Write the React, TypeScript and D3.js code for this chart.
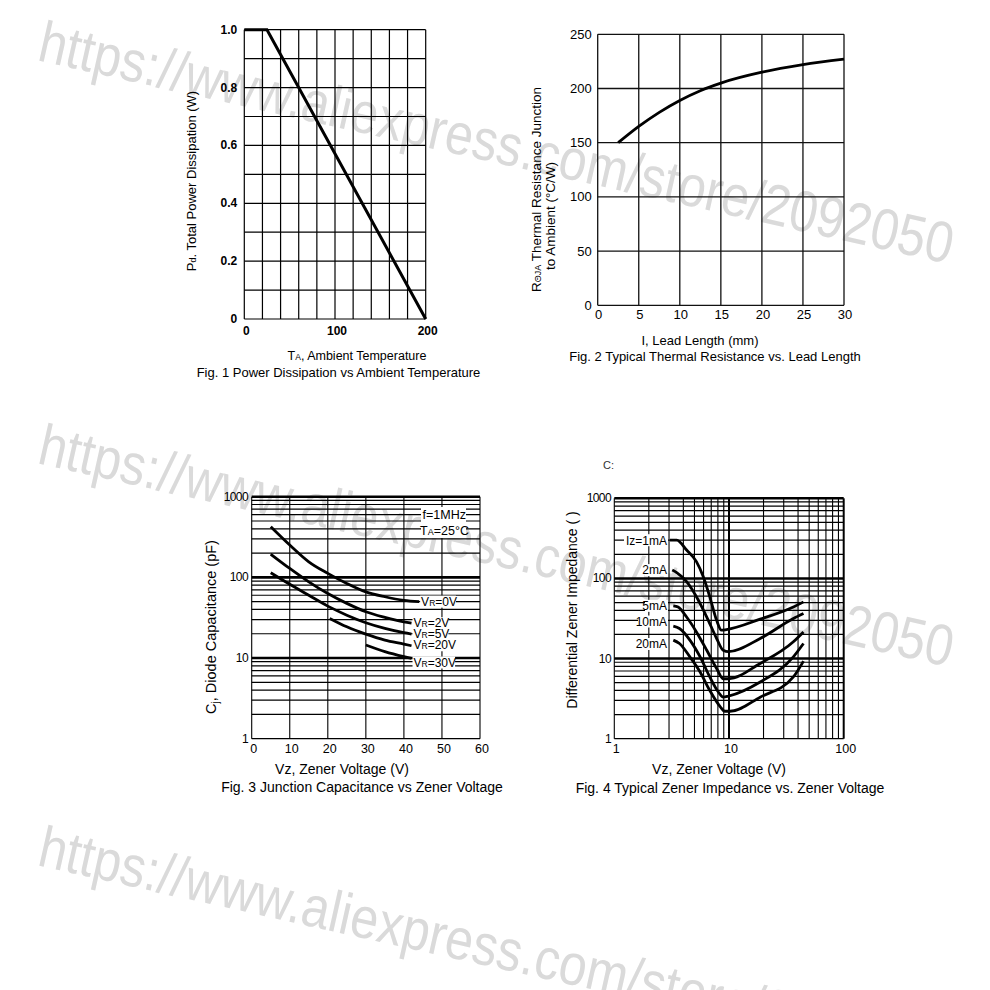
import * as d3 from "d3";

const FONT = "'Liberation Sans', Arial, Helvetica, sans-serif";

// Fig. 1 – power dissipation vs ambient temperature
const ambientTemp = [0, 25, 200];
const powerDissipation = [1.0, 1.0, 0];
const fig1XTicks = [0, 100, 200];
const fig1YTicks = [0, 0.2, 0.4, 0.6, 0.8, 1.0];

// Fig. 2 – thermal resistance vs lead length
const leadLength = [2.5, 5, 7.5, 10, 12.5, 15, 20, 25, 30];
const thermalRes = [150, 165, 178, 189, 198, 205, 215, 222, 227];
const fig2XTicks = [0, 5, 10, 15, 20, 25, 30];
const fig2YTicks = [0, 50, 100, 150, 200, 250];

// Fig. 3 – junction capacitance vs zener voltage
const capSeries = ["0V", "2V", "5V", "20V", "30V"];
const capVz = [
  [5, 10, 15, 20, 25, 30, 35, 40, 44],
  [5, 10, 15, 20, 25, 30, 35, 40, 42],
  [5, 10, 15, 20, 25, 30, 35, 40, 42],
  [20.5, 25, 30, 35, 40, 42],
  [30, 35, 40, 42],
];
const capValues = [
  [425, 252, 156, 112, 84, 66, 57.5, 52, 50],
  [194, 129, 88, 63, 47.6, 37.5, 31.9, 28, 27],
  [114, 82, 60, 44, 34, 27.4, 23.3, 20.6, 19.8],
  [31, 24.4, 19.8, 16.7, 14.9, 14.2],
  [14.5, 12, 10.4, 9.9],
];
const capLabelAt = [50, 27, 19.8, 14.4, 8.8];
const fig3XTicks = [0, 10, 20, 30, 40, 50, 60];
const fig3YTicks = [1, 10, 100, 1000];

// Fig. 4 – zener impedance vs zener voltage
const impSeries = ["Iz=1mA", "2mA", "5mA", "10mA", "20mA"];
const impVz = [
  [3.06, 3.5, 4.27, 5.2, 5.97, 6.8, 7.8, 8.6, 9.5, 18.7, 36.4, 44.6],
  [3.2, 3.5, 4.27, 5.2, 6.4, 7.8, 8.9, 9.9, 18.7, 36.4, 44.6],
  [3.27, 3.6, 4.27, 5.2, 6.4, 7.8, 8.9, 9.9, 18.7, 36.4, 44.6],
  [3.27, 3.7, 4.56, 5.6, 6.8, 8.1, 8.9, 9.9, 18.7, 36.4, 44.6],
  [3.27, 3.7, 4.56, 5.6, 6.8, 8.4, 9.2, 10.2, 18.7, 36.4, 44.6],
];
const impValues = [
  [300, 300, 226, 162, 105, 59, 30, 22.6, 23, 31, 44, 51],
  [127, 118, 91, 59, 33, 17.8, 12.7, 12.2, 17.8, 31.6, 36.5],
  [45.5, 44, 33, 21.5, 12.7, 7.5, 5.6, 5.6, 8.7, 16.2, 21.5],
  [25.4, 23.7, 17, 10.5, 5.9, 3.8, 3.3, 3.4, 5.1, 10.5, 15.4],
  [17, 15.4, 10.5, 6.8, 4.0, 2.5, 2.2, 2.2, 3.3, 5.9, 9.3],
];
const impLabelAt = [300, 127, 45.5, 29, 15.2];
const fig4XTicks = [1, 10, 100];
const fig4YTicks = [1, 10, 100, 1000];

const watermark = "https://www.aliexpress.com/store/2092050";
const watermarkRows = [60, 463, 865];

const isDecade = (v: number) => Math.abs(Math.log10(v) - Math.round(Math.log10(v))) < 1e-9;

export default function App() {
  // scales
  const x1 = d3.scaleLinear().domain([0, 200]).range([244.3, 425.7]);
  const y1 = d3.scaleLinear().domain([0, 1]).range([319, 29.7]);
  const x2 = d3.scaleLinear().domain([0, 30]).range([597.7, 844]);
  const y2 = d3.scaleLinear().domain([0, 250]).range([305.3, 34.3]);
  const x3 = d3.scaleLinear().domain([0, 60]).range([251.7, 480]);
  const y3 = d3.scaleLog().domain([1, 1000]).range([738.7, 496.7]);
  const x4 = d3.scaleLog().domain([1, 100]).range([614.3, 843.7]);
  const y4 = d3.scaleLog().domain([1, 1000]).range([738.7, 498.3]);

  const line1 = d3.line<number>().x((d, i) => x1(ambientTemp[i])).y(d => y1(d));
  const line2 = d3.line<number>().x((d, i) => x2(leadLength[i])).y(d => y2(d)).curve(d3.curveMonotoneX);

  return (
    <svg
      width={990}
      height={990}
      style={{ position: "absolute", left: 0, top: 0, background: "#fff" }}
      fontFamily={FONT}
    >
      <rect width={990} height={990} fill="#fff" />
      {/* watermark */}
      {watermarkRows.map((y, i) => (
        <text
          key={i}
          x={36}
          y={y}
          transform={`rotate(12.6, 36, ${y})`}
          fontSize={58}
          fontFamily="'Liberation Sans Narrow', 'Liberation Sans', Arial, sans-serif"
          fill="#dadada"
          textLength={935}
          lengthAdjust="spacingAndGlyphs"
        >
          {watermark}
        </text>
      ))}

      {/* ---------- Fig 1 ---------- */}
      <g>
        {x1.ticks(10).map(t => (
          <line key={"v" + t} x1={x1(t)} x2={x1(t)} y1={y1(0)} y2={y1(1)} stroke="#000" strokeWidth={1.2} />
        ))}
        {y1.ticks(10).map(t => (
          <line key={"h" + t} x1={x1(0)} x2={x1(200)} y1={y1(t)} y2={y1(t)} stroke="#000" strokeWidth={1.2} />
        ))}
        <path d={line1(powerDissipation) || ""} fill="none" stroke="#000" strokeWidth={3} />
        {fig1YTicks.map(t => (
          <text key={t} x={x1(0) - 7} y={y1(t) + 4} textAnchor="end" fontSize={12} fontWeight="bold">
            {t === 0 ? "0" : t.toFixed(1)}
          </text>
        ))}
        {fig1XTicks.map(t => (
          <text key={t} x={x1(t) + 2} y={334.5} textAnchor="middle" fontSize={12} fontWeight="bold">
            {t}
          </text>
        ))}
        <text transform="translate(196,181) rotate(-90)" textAnchor="middle" fontSize={13}>
          P<tspan fontSize={9}>d</tspan>. Total Power Dissipation (W)
        </text>
        <text x={357} y={360} textAnchor="middle" fontSize={12.5}>
          T<tspan fontSize={8.5}>A</tspan>, Ambient Temperature
        </text>
        <text x={338.5} y={376.5} textAnchor="middle" fontSize={13}>
          Fig. 1 Power Dissipation vs Ambient Temperature
        </text>
      </g>

      {/* ---------- Fig 2 ---------- */}
      <g>
        {x2.ticks(6).map(t => (
          <line key={"v" + t} x1={x2(t)} x2={x2(t)} y1={y2(0)} y2={y2(250)} stroke="#111" strokeWidth={1.3} />
        ))}
        {y2.ticks(5).map(t => (
          <line key={"h" + t} x1={x2(0)} x2={x2(30)} y1={y2(t)} y2={y2(t)} stroke="#111" strokeWidth={1.3} />
        ))}
        <path d={line2(thermalRes) || ""} fill="none" stroke="#000" strokeWidth={2.8} />
        {fig2YTicks.map(t => (
          <text key={t} x={x2(0) - 6} y={y2(t) + 4.5} textAnchor="end" fontSize={13}>
            {t}
          </text>
        ))}
        {fig2XTicks.map(t => (
          <text key={t} x={x2(t) + 1} y={319} textAnchor="middle" fontSize={13}>
            {t}
          </text>
        ))}
        <text transform="translate(541,189.5) rotate(-90)" textAnchor="middle" fontSize={13.5}>
          R<tspan fontSize={9}>ΘJA</tspan> Thermal Resistance Junction
        </text>
        <text transform="translate(555,216) rotate(-90)" textAnchor="middle" fontSize={13.5}>
          to Ambient (°C/W)
        </text>
        <text x={700} y={344.5} textAnchor="middle" fontSize={13}>
          I, Lead Length (mm)
        </text>
        <text x={715} y={360.5} textAnchor="middle" fontSize={13}>
          Fig. 2 Typical Thermal Resistance vs. Lead Length
        </text>
      </g>

      {/* ---------- Fig 3 ---------- */}
      <g>
        {y3.ticks().map(t => (
          <line
            key={"h" + t}
            x1={x3(0)}
            x2={x3(60)}
            y1={y3(t)}
            y2={y3(t)}
            stroke="#000"
            strokeWidth={isDecade(t) && t > 1 ? 2.6 : 1.2}
          />
        ))}
        {x3.ticks(6).map(t => (
          <line key={"v" + t} x1={x3(t)} x2={x3(t)} y1={y3(1)} y2={y3(1000)} stroke="#000" strokeWidth={1.1} />
        ))}
        {/* annotation boxes */}
        <rect x={421} y={507} width={45} height={31} fill="#fff" />
        <text x={466} y={519} textAnchor="end" fontSize={12.5}>f=1MHz</text>
        <text x={469} y={535} textAnchor="end" fontSize={12.5}>
          T<tspan fontSize={9}>A</tspan>=25°C
        </text>
        {capSeries.map((s, k) => {
          const line3 = d3
            .line<number>()
            .x((d, i) => x3(capVz[k][i]))
            .y(d => y3(d))
            .curve(d3.curveMonotoneX);
          const lastX = capVz[k][capVz[k].length - 1];
          const lx = Math.max(x3(lastX) + 2, 413);
          const ly = y3(capLabelAt[k]);
          const w = 12 * (1.7 + s.length * 0.56);
          return (
            <g key={s}>
              <rect x={lx - 1} y={ly - 6} width={w + 2} height={12} fill="#fff" />
              <path d={line3(capValues[k]) || ""} fill="none" stroke="#000" strokeWidth={2.8} />
              <text x={lx} y={ly + 4.2} fontSize={12}>
                V<tspan fontSize={8.5}>R</tspan>={s}
              </text>
            </g>
          );
        })}
        {fig3YTicks.map(t => (
          <text key={t} x={248} y={y3(t) + 4} textAnchor="end" fontSize={12} letterSpacing={-0.6}>
            {t}
          </text>
        ))}
        {fig3XTicks.map(t => (
          <text key={t} x={x3(t) + 2} y={752.5} textAnchor="middle" fontSize={12.5}>
            {t}
          </text>
        ))}
        <text transform="translate(216,627) rotate(-90)" textAnchor="middle" fontSize={14.5}>
          C<tspan fontSize={10} dy={3}>j</tspan>
          <tspan dy={-3}>, Diode Capacitance (pF)</tspan>
        </text>
        <text x={342} y={773.5} textAnchor="middle" fontSize={14}>
          Vz, Zener Voltage (V)
        </text>
        <text x={362} y={792} textAnchor="middle" fontSize={14}>
          Fig. 3 Junction Capacitance vs Zener Voltage
        </text>
      </g>

      {/* ---------- Fig 4 ---------- */}
      <g>
        {y4.ticks().map(t => (
          <line
            key={"h" + t}
            x1={x4(1)}
            x2={x4(100)}
            y1={y4(t)}
            y2={y4(t)}
            stroke="#000"
            strokeWidth={isDecade(t) && t > 1 ? 2.6 : 1.2}
          />
        ))}
        {x4.ticks().map(t => (
          <line
            key={"v" + t}
            x1={x4(t)}
            x2={x4(t)}
            y1={y4(1)}
            y2={y4(1000)}
            stroke="#000"
            strokeWidth={t === 10 || t === 100 ? 2 : 1.1}
          />
        ))}
        {impSeries.map((s, k) => {
          const line4 = d3
            .line<number>()
            .x((d, i) => x4(impVz[k][i]))
            .y(d => y4(d))
            .curve(d3.curveMonotoneX);
          const ly = y4(impLabelAt[k]);
          const w = s.length * 7;
          return (
            <g key={s}>
              <rect x={667 - w - 1} y={ly - 6} width={w + 2} height={12} fill="#fff" />
              <text x={667} y={ly + 4.3} textAnchor="end" fontSize={12}>
                {s}
              </text>
              <path d={line4(impValues[k]) || ""} fill="none" stroke="#000" strokeWidth={2.8} />
            </g>
          );
        })}
        {fig4YTicks.map(t => (
          <text key={t} x={611} y={y4(t) + 4} textAnchor="end" fontSize={12} letterSpacing={-0.6}>
            {t}
          </text>
        ))}
        {fig4XTicks.map(t => (
          <text key={t} x={x4(t) + 2} y={753} textAnchor="middle" fontSize={12.5}>
            {t}
          </text>
        ))}
        <text x={603} y={469} fontSize={11} fill="#333">
          C:
        </text>
        <text transform="translate(577,610) rotate(-90)" textAnchor="middle" fontSize={14}>
          Differential Zener Impedance (  )
        </text>
        <text x={719} y={773.5} textAnchor="middle" fontSize={14}>
          Vz, Zener Voltage (V)
        </text>
        <text x={730} y={792.5} textAnchor="middle" fontSize={14}>
          Fig. 4 Typical Zener Impedance vs. Zener Voltage
        </text>
      </g>
    </svg>
  );
}
